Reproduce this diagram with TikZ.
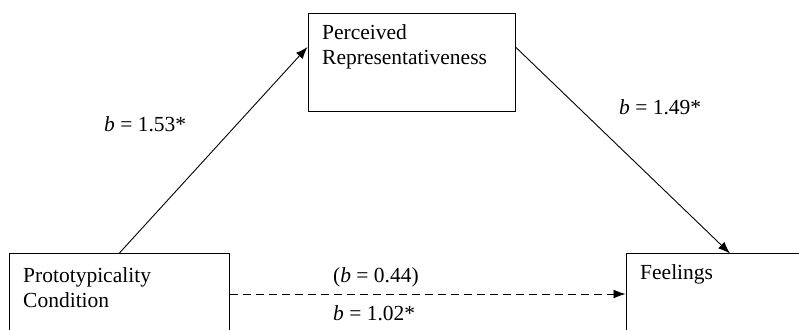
\documentclass[tikz,border=0pt]{standalone}
\usepackage{fontspec}
\setmainfont{Liberation Serif}
\usetikzlibrary{arrows.meta, positioning, calc}

\begin{document}
\begin{tikzpicture}[x=1pt, y=1pt, >={Latex[length=12pt, width=9pt]},
  box/.style={draw, line width=1pt, inner sep=0pt},
  boxtext/.style={anchor=base west, inner sep=0pt, align=left,
                  font=\fontsize{21.5}{25}\selectfont},
  coef/.style={anchor=base west, inner sep=0pt,
               font=\fontsize{21.5}{25}\selectfont}]
  \clip (0,0) rectangle (799,329);

  % Boxes
  \node[box, minimum width=220pt, minimum height=92pt] (cond) at (119,29) {};
  \node[box, minimum width=207pt, minimum height=98pt] (repr) at (411.5,266) {};
  \node[box, minimum width=208pt, minimum height=92pt] (feel) at (730,29) {};

  % Box texts (base = last line)
  \node[boxtext] (condtxt) at (23,22) {Prototypicality\\Condition};
  \node[boxtext] (reprtxt) at (322,264) {Perceived\\Representativeness};
  \node[boxtext] (feeltxt) at (640,49) {Feelings};

  % Paths
  \draw[->, line width=0.9pt] (cond.north) -- ([yshift=16pt]repr.west);
  \draw[->, line width=0.9pt] ([yshift=16pt]repr.east) -- (feel.north);
  \draw[->, line width=0.9pt, dash pattern=on 8pt off 5pt]
    ([yshift=6pt]cond.east) -- ([yshift=6pt]feel.west);

  % Coefficients
  \node[coef] (ca) at (104,197) {\itshape b\upshape{} = 1.53*};
  \node[coef] (cb) at (619,214) {\itshape b\upshape{} = 1.49*};
  \node[coef] (cc) at (333,47) {(\itshape b\upshape{} = 0.44)};
  \node[coef] (cd) at (333,9) {\itshape b\upshape{} = 1.02*};
\end{tikzpicture}
\end{document}
